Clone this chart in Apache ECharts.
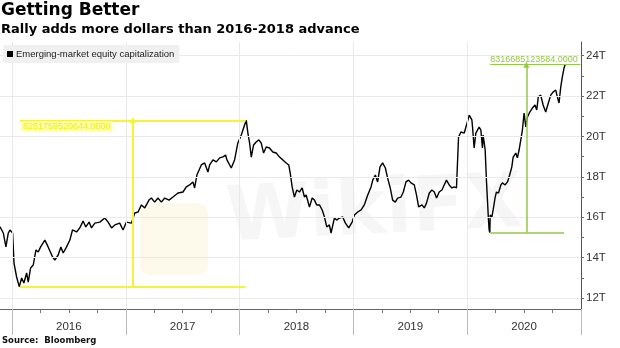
<!DOCTYPE html>
<html>
<head>
<meta charset="utf-8">
<script src="https://cdn.jsdelivr.net/npm/echarts@6/dist/echarts.min.js"></script>
<style>html,body{margin:0;padding:0;background:#fff}#c{width:620px;height:348px}</style>
</head>
<body>
<div id="c"></div>
<script>
// ---- data (decimal year, trillions of US dollars) ----
const times = [2015.895,2015.924,2015.947,2015.968,2015.982,2016.006,2016.018,2016.041,2016.064,2016.085,2016.105,2016.129,2016.143,2016.164,2016.187,2016.211,2016.231,2016.252,2016.289,2016.318,2016.357,2016.377,2016.406,2016.430,2016.450,2016.480,2016.509,2016.532,2016.568,2016.596,2016.625,2016.649,2016.678,2016.699,2016.728,2016.772,2016.816,2016.845,2016.875,2016.904,2016.947,2016.976,2017.006,2017.020,2017.050,2017.079,2017.108,2017.138,2017.167,2017.204,2017.225,2017.254,2017.283,2017.313,2017.342,2017.380,2017.415,2017.459,2017.503,2017.532,2017.561,2017.590,2017.605,2017.625,2017.664,2017.693,2017.722,2017.737,2017.766,2017.796,2017.825,2017.854,2017.877,2017.889,2017.927,2017.956,2017.985,2018.015,2018.044,2018.059,2018.073,2018.088,2018.103,2018.123,2018.146,2018.169,2018.190,2018.211,2018.234,2018.263,2018.292,2018.322,2018.351,2018.380,2018.410,2018.432,2018.445,2018.462,2018.482,2018.503,2018.526,2018.550,2018.570,2018.585,2018.614,2018.638,2018.658,2018.678,2018.702,2018.726,2018.746,2018.766,2018.789,2018.804,2018.833,2018.853,2018.877,2018.906,2018.930,2018.959,2018.989,2019.009,2019.038,2019.068,2019.096,2019.126,2019.155,2019.170,2019.193,2019.213,2019.234,2019.257,2019.281,2019.301,2019.322,2019.345,2019.368,2019.389,2019.418,2019.439,2019.462,2019.485,2019.506,2019.535,2019.555,2019.573,2019.603,2019.623,2019.643,2019.667,2019.690,2019.711,2019.731,2019.754,2019.778,2019.798,2019.818,2019.842,2019.866,2019.886,2019.906,2019.924,2019.945,2019.974,2019.994,2020.018,2020.041,2020.047,2020.061,2020.076,2020.105,2020.120,2020.134,2020.140,2020.158,2020.169,2020.178,2020.187,2020.193,2020.199,2020.202,2020.217,2020.228,2020.246,2020.257,2020.275,2020.296,2020.310,2020.333,2020.354,2020.368,2020.392,2020.404,2020.427,2020.441,2020.456,2020.471,2020.485,2020.500,2020.515,2020.529,2020.550,2020.573,2020.596,2020.611,2020.625,2020.646,2020.667,2020.690,2020.713,2020.734,2020.754,2020.778,2020.792,2020.807,2020.822,2020.836,2020.851,2020.860];
const values = [15.53,15.22,14.53,15.22,15.37,15.22,13.73,13.04,12.56,12.99,12.74,13.24,12.79,13.49,13.63,14.38,14.28,14.53,14.87,14.53,14.03,13.88,14.13,14.53,14.23,14.53,14.87,15.37,15.27,15.47,15.81,15.52,15.76,15.47,15.71,15.76,15.96,15.76,15.47,15.62,15.71,15.37,15.76,15.76,15.71,16.21,16.26,16.61,16.46,16.85,16.95,16.75,16.95,16.75,16.95,16.85,17.00,17.20,17.25,17.50,17.60,17.75,17.45,18.09,18.59,18.69,18.24,18.59,18.84,18.74,18.94,18.99,19.08,18.84,18.44,18.84,19.68,20.07,20.57,20.80,20.17,19.68,18.98,19.58,19.73,19.83,19.68,19.18,19.48,19.43,19.23,19.18,18.98,18.84,18.69,18.59,18.19,17.50,17.00,17.35,17.25,17.45,17.00,17.10,16.51,16.95,16.85,16.61,16.61,16.36,16.01,15.52,15.62,15.22,15.96,15.86,15.96,16.01,15.71,15.47,15.76,16.11,16.26,16.36,16.61,17.10,17.50,17.84,18.09,17.75,18.49,18.69,18.44,17.94,17.50,16.85,16.75,16.95,17.00,17.25,17.75,17.84,17.70,17.60,17.10,16.51,16.61,16.46,16.71,17.20,17.35,17.25,16.95,17.25,17.35,17.60,17.84,17.60,17.45,17.50,17.45,19.97,20.22,20.17,20.57,21.06,20.82,20.47,19.43,20.17,20.47,20.32,19.43,20.07,19.33,17.84,16.85,15.86,15.37,15.24,16.11,16.01,16.36,17.00,17.25,17.20,17.60,17.70,17.60,17.75,17.99,18.49,18.98,19.18,18.94,19.33,19.83,20.32,21.16,20.47,20.96,21.21,21.41,21.56,21.31,21.96,22.05,21.56,21.21,21.66,22.05,22.20,22.30,21.96,21.66,22.45,22.95,23.39,23.556];

const seriesName = 'Emerging-market equity capitalization';
const yearLabels = ['2016','2017','2018','2019','2020'];
const yearStarts = [2016,2017,2018,2019,2020,2021];
const yTickValues = [12,14,16,18,20,22,24];
const yMinorTicks = [12,13,14,15,16,17,18,19,20,21,22,23,24];

// annotation measures
const yellowRange = [2016.07, 2018.053];   // from / to (years)
const yellowLevels = [12.55, 20.80];       // low / high (T)
const yellowArrowAt = [2017.061];
const yellowText = ['8251759520644.0000'];
const greenRange = [2020.202, 2020.851, 2020.995];
const greenLevels = [15.24, 23.556];
const greenArrowAt = [2020.52];
const greenText = ['8316685123584.0000'];

const quarterTicks = [];
for (let y = 2016; y <= 2021; y += 0.25) quarterTicks.push(y);
const labelMids = yearLabels.map(l => Number(l) + 0.5);

const YEL = '#f4f23a', GRN = '#93c947';
const chart = echarts.init(document.getElementById('c'), null, {renderer: 'canvas'});
const option = {
  animation: false,
  backgroundColor: '#ffffff',
  title: [
    {text: 'Getting Better', left: 1, top: 2, padding: 0,
     textStyle: {fontFamily: 'DejaVu Sans', fontWeight: 'bold', fontSize: 17, color: '#000'}},
    {text: 'Rally adds more dollars than 2016-2018 advance', left: 1, top: 23, padding: 0,
     textStyle: {fontFamily: 'DejaVu Sans', fontWeight: 'bold', fontSize: 13, color: '#000'}},
    {text: 'Source:  Bloomberg', left: 2, top: 336, padding: 0,
     textStyle: {fontFamily: 'DejaVu Sans', fontWeight: 'bold', fontSize: 8.5, color: '#111'}}
  ],
  legend: {
    data: [seriesName], left: 3, top: 45, padding: [4, 5, 4, 4], z: 20,
    backgroundColor: '#f0f0f0', borderRadius: 2,
    icon: 'rect', itemWidth: 6, itemHeight: 6, itemGap: 4,
    textStyle: {fontFamily: 'Liberation Sans', fontSize: 9.5, color: '#222', padding: [0, 0, 0, -2]}
  },
  grid: {left: 0, right: 39, top: 42, bottom: 39, containLabel: false, outerBoundsMode: 'none'},
  graphic: [
    {type: 'text', left: 224, top: 168, rotation: 0.05, z: 0, silent: true,
     style: {text: 'WikiFX', font: 'bold 76px "DejaVu Sans"', fill: 'rgba(200,200,200,0.16)'}},
    {type: 'rect', left: 140, top: 203, z: 0, silent: true,
     shape: {width: 68, height: 72, r: 10}, style: {fill: 'rgba(245,225,150,0.18)'}}
  ],
  xAxis: [
    {type: 'value', min: 2015.895, max: 2021, position: 'bottom',
     axisLine: {show: true, lineStyle: {color: '#666', width: 1}},
     axisTick: {show: true, customValues: quarterTicks, length: 4, lineStyle: {color: '#777'}},
     axisLabel: {customValues: labelMids, formatter: v => yearLabels[Math.floor(v) - 2016],
                 fontFamily: 'Liberation Sans', fontSize: 11.5, color: '#333', margin: 12},
     splitLine: {show: false}},
    {type: 'value', min: 2015.895, max: 2021, position: 'bottom',
     axisLine: {show: false},
     axisTick: {show: true, customValues: yearStarts, length: 26, lineStyle: {color: '#bbb'}},
     axisLabel: {show: false}, splitLine: {show: false}}
  ],
  yAxis: {
    type: 'value', position: 'right', min: 11.455, max: 24.68,
    axisLine: {show: true, lineStyle: {color: '#555', width: 1}},
    axisTick: {show: true, customValues: yMinorTicks, length: 3, lineStyle: {color: '#666'}},
    axisLabel: {customValues: yTickValues, formatter: v => v + 'T',
                fontFamily: 'Liberation Sans', fontSize: 11.5, color: '#333', margin: 5},
    splitLine: {show: false},
    name: 'U.S. dollars', nameLocation: 'middle', nameRotate: -90, nameGap: 27,
    nameTextStyle: {fontFamily: 'Liberation Sans', fontSize: 13, color: '#333'}
  },
  series: [
    {type: 'line', name: 'grid', data: [], silent: true, z: 1,
     markLine: {silent: true, symbol: ['none', 'none'], label: {show: false},
       lineStyle: {color: '#e9e9e9', width: 1, type: 'solid'},
       data: yTickValues.map(v => ({yAxis: v})).concat(yearStarts.slice(0, 5).map(x => ({xAxis: x})))}},
    {type: 'line', name: seriesName, data: times.map((t, i) => [t, values[i]]),
     showSymbol: false, symbol: 'none', z: 3,
     lineStyle: {color: '#000', width: 1.4}, itemStyle: {color: '#000'}},
    {type: 'line', name: 'annot', data: [], silent: true, z: 4,
     markLine: {silent: true, symbol: ['none', 'none'], label: {show: false},
       data: [
         [{coord: [yellowRange[0], yellowLevels[0]], lineStyle: {color: YEL, width: 2, type: 'solid'}},
          {coord: [yellowRange[1], yellowLevels[0]]}],
         [{coord: [yellowRange[0], yellowLevels[1]], lineStyle: {color: YEL, width: 2, type: 'solid'},
           label: {show: true, position: 'insideStartBottom', distance: [1, 1], formatter: yellowText[0],
                   color: '#eeee20', backgroundColor: '#ffffa8', padding: [1, 2, 0, 2],
                   fontFamily: 'Liberation Sans', fontSize: 9}},
          {coord: [yellowRange[1], yellowLevels[1]]}],
         [{coord: [yellowArrowAt[0], yellowLevels[0]], symbol: 'none', lineStyle: {color: YEL, width: 2, type: 'solid'}},
          {coord: [yellowArrowAt[0], yellowLevels[1]], symbol: 'triangle', symbolSize: 6}],
         [{coord: [greenRange[0], greenLevels[0]], lineStyle: {color: GRN, width: 1.5, type: 'solid'}},
          {coord: [greenRange[1], greenLevels[0]]}],
         [{coord: [greenRange[0], greenLevels[1]], lineStyle: {color: GRN, width: 1.2, type: 'solid'},
           label: {show: true, position: 'insideStartTop', distance: [0, 1], formatter: greenText[0],
                   color: GRN, fontFamily: 'Liberation Sans', fontSize: 9}},
          {coord: [greenRange[2], greenLevels[1]]}],
         [{coord: [greenArrowAt[0], greenLevels[0]], symbol: 'none', lineStyle: {color: GRN, width: 1.5, type: 'solid'}},
          {coord: [greenArrowAt[0], greenLevels[1]], symbol: 'triangle', symbolSize: 6}]
       ]}}
  ]
};
chart.setOption(option);
</script>
</body>
</html>
